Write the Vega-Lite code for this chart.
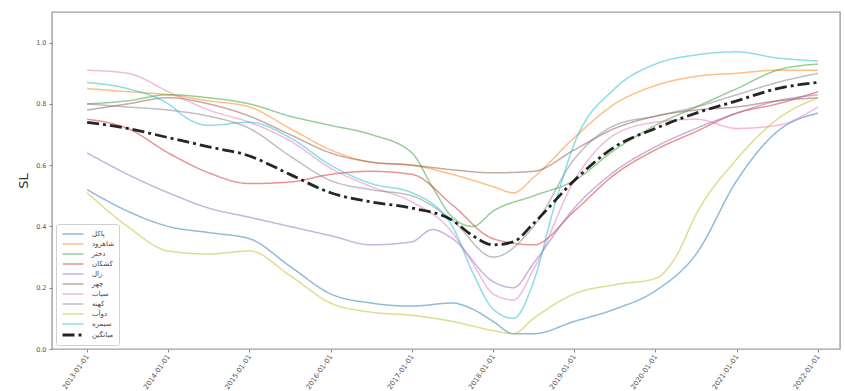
{
  "$schema": "https://vega.github.io/schema/vega-lite/v6.json",
  "width": 788,
  "height": 337,
  "autosize": {"type": "none"},
  "padding": {"left": 52, "top": 12, "right": 5, "bottom": 42},
  "background": "white",
  "config": {
    "view": {"stroke": "#a0a0a0", "strokeWidth": 1.4},
    "font": "DejaVu Sans",
    "axis": {
      "grid": false,
      "domain": false,
      "tickColor": "#888",
      "tickSize": 3,
      "labelColor": "#555",
      "labelFont": "DejaVu Sans",
      "labelFontSize": 6.5
    },
    "legend": {
      "title": null,
      "orient": "bottom-left",
      "offset": 4,
      "padding": 4,
      "fillColor": "rgba(255,255,255,0.85)",
      "strokeColor": "#d0d0d0",
      "cornerRadius": 2,
      "symbolType": "M-2,0H2",
      "symbolSize": 110,
      "symbolOffset": 6,
      "labelOffset": 12,
      "rowPadding": 1,
      "labelFont": "DejaVu Sans",
      "labelFontSize": 7,
      "labelColor": "#444"
    }
  },
  "data": {
    "values": [
      {"date": "2013-01-01", "پاکل": 0.52, "شاهرود": 0.85, "دختر": 0.80, "کشکان": 0.75, "زال": 0.64, "چهر": 0.78, "سیاب": 0.91, "کهنه": 0.80, "دوآب": 0.51, "سیمره": 0.87, "میانگین": 0.74},
      {"date": "2013-07-02", "پاکل": 0.45, "شاهرود": 0.84, "دختر": 0.81, "کشکان": 0.72, "زال": 0.57, "چهر": 0.80, "سیاب": 0.90, "کهنه": 0.79, "دوآب": 0.40, "سیمره": 0.85, "میانگین": 0.72},
      {"date": "2014-01-01", "پاکل": 0.40, "شاهرود": 0.83, "دختر": 0.83, "کشکان": 0.64, "زال": 0.51, "چهر": 0.82, "سیاب": 0.84, "کهنه": 0.78, "دوآب": 0.32, "سیمره": 0.80, "میانگین": 0.69},
      {"date": "2014-04-02", "سیمره": 0.75},
      {"date": "2014-07-02", "پاکل": 0.38, "شاهرود": 0.81, "دختر": 0.82, "کشکان": 0.575, "زال": 0.46, "چهر": 0.80, "سیاب": 0.78, "کهنه": 0.76, "دوآب": 0.31, "سیمره": 0.73, "میانگین": 0.66},
      {"date": "2015-01-01", "پاکل": 0.36, "شاهرود": 0.79, "دختر": 0.80, "کشکان": 0.54, "زال": 0.43, "چهر": 0.76, "سیاب": 0.74, "کهنه": 0.72, "دوآب": 0.32, "سیمره": 0.74, "میانگین": 0.63},
      {"date": "2015-07-02", "پاکل": 0.27, "شاهرود": 0.72, "دختر": 0.76, "کشکان": 0.545, "زال": 0.40, "چهر": 0.70, "سیاب": 0.68, "کهنه": 0.63, "دوآب": 0.24, "سیمره": 0.69, "میانگین": 0.57},
      {"date": "2016-01-01", "پاکل": 0.18, "شاهرود": 0.65, "دختر": 0.73, "کشکان": 0.57, "زال": 0.37, "چهر": 0.64, "سیاب": 0.59, "کهنه": 0.55, "دوآب": 0.15, "سیمره": 0.60, "میانگین": 0.51},
      {"date": "2016-07-02", "پاکل": 0.15, "شاهرود": 0.61, "دختر": 0.70, "کشکان": 0.58, "زال": 0.34, "چهر": 0.61, "سیاب": 0.53, "کهنه": 0.52, "دوآب": 0.12, "سیمره": 0.54, "میانگین": 0.48},
      {"date": "2017-01-01", "پاکل": 0.14, "شاهرود": 0.60, "دختر": 0.64, "کشکان": 0.57, "زال": 0.35, "چهر": 0.60, "سیاب": 0.48, "کهنه": 0.50, "دوآب": 0.11, "سیمره": 0.51, "میانگین": 0.46},
      {"date": "2017-04-02", "دختر": 0.53, "زال": 0.39},
      {"date": "2017-07-02", "پاکل": 0.15, "شاهرود": 0.57, "دختر": 0.43, "کشکان": 0.47, "زال": 0.36, "چهر": 0.585, "سیاب": 0.38, "کهنه": 0.42, "دوآب": 0.09, "سیمره": 0.40, "میانگین": 0.42},
      {"date": "2017-10-01", "پاکل": 0.13, "دختر": 0.40, "سیاب": 0.28, "سیمره": 0.25, "میانگین": 0.37},
      {"date": "2018-01-01", "پاکل": 0.09, "شاهرود": 0.53, "دختر": 0.45, "کشکان": 0.36, "زال": 0.22, "چهر": 0.575, "سیاب": 0.18, "کهنه": 0.30, "دوآب": 0.06, "سیمره": 0.13, "میانگین": 0.34},
      {"date": "2018-04-02", "پاکل": 0.05, "شاهرود": 0.51, "زال": 0.20, "سیاب": 0.16, "دوآب": 0.05, "سیمره": 0.10, "میانگین": 0.35},
      {"date": "2018-07-02", "پاکل": 0.05, "شاهرود": 0.56, "دختر": 0.50, "کشکان": 0.34, "زال": 0.28, "چهر": 0.58, "سیاب": 0.26, "کهنه": 0.40, "دوآب": 0.10, "سیمره": 0.22, "میانگین": 0.41},
      {"date": "2018-10-01", "سیمره": 0.46},
      {"date": "2019-01-01", "پاکل": 0.09, "شاهرود": 0.69, "دختر": 0.55, "کشکان": 0.45, "زال": 0.46, "چهر": 0.65, "سیاب": 0.55, "کهنه": 0.62, "دوآب": 0.18, "سیمره": 0.67, "میانگین": 0.55},
      {"date": "2019-07-02", "پاکل": 0.13, "شاهرود": 0.80, "دختر": 0.65, "کشکان": 0.57, "زال": 0.58, "چهر": 0.72, "سیاب": 0.70, "کهنه": 0.73, "دوآب": 0.21, "سیمره": 0.85, "میانگین": 0.66},
      {"date": "2020-01-01", "پاکل": 0.19, "شاهرود": 0.86, "دختر": 0.73, "کشکان": 0.65, "زال": 0.66, "چهر": 0.76, "سیاب": 0.74, "کهنه": 0.76, "دوآب": 0.23, "سیمره": 0.93, "میانگین": 0.72},
      {"date": "2020-04-01", "دوآب": 0.30},
      {"date": "2020-07-02", "پاکل": 0.31, "شاهرود": 0.89, "دختر": 0.79, "کشکان": 0.71, "زال": 0.72, "چهر": 0.78, "سیاب": 0.75, "کهنه": 0.79, "دوآب": 0.44, "سیمره": 0.96, "میانگین": 0.77},
      {"date": "2021-01-01", "پاکل": 0.55, "شاهرود": 0.90, "دختر": 0.85, "کشکان": 0.77, "زال": 0.77, "چهر": 0.79, "سیاب": 0.72, "کهنه": 0.83, "دوآب": 0.62, "سیمره": 0.97, "میانگین": 0.81},
      {"date": "2021-07-02", "پاکل": 0.71, "شاهرود": 0.91, "دختر": 0.91, "کشکان": 0.80, "زال": 0.81, "چهر": 0.81, "سیاب": 0.73, "کهنه": 0.87, "دوآب": 0.75, "سیمره": 0.95, "میانگین": 0.85},
      {"date": "2022-01-01", "پاکل": 0.77, "شاهرود": 0.91, "دختر": 0.93, "کشکان": 0.84, "زال": 0.83, "چهر": 0.82, "سیاب": 0.79, "کهنه": 0.90, "دوآب": 0.82, "سیمره": 0.94, "میانگین": 0.87}
    ]
  },
  "transform": [
    {"fold": ["پاکل", "شاهرود", "دختر", "کشکان", "زال", "چهر", "سیاب", "کهنه", "دوآب", "سیمره", "میانگین"], "as": ["station", "SL"]},
    {"filter": "isValid(datum.SL)"}
  ],
  "mark": {"type": "line", "interpolate": "monotone"},
  "encoding": {
    "x": {
      "field": "date",
      "type": "temporal",
      "scale": {"type": "utc", "domain": [{"year": 2012, "month": 7, "date": 27, "utc": true}, {"year": 2022, "month": 4, "date": 10, "utc": true}]},
      "axis": {
        "title": null,
        "labelExpr": "utcFormat(datum.value, '%Y-%m-%d')",
        "values": [
          {"year": 2013, "month": 1, "date": 1, "utc": true},
          {"year": 2014, "month": 1, "date": 1, "utc": true},
          {"year": 2015, "month": 1, "date": 1, "utc": true},
          {"year": 2016, "month": 1, "date": 1, "utc": true},
          {"year": 2017, "month": 1, "date": 1, "utc": true},
          {"year": 2018, "month": 1, "date": 1, "utc": true},
          {"year": 2019, "month": 1, "date": 1, "utc": true},
          {"year": 2020, "month": 1, "date": 1, "utc": true},
          {"year": 2021, "month": 1, "date": 1, "utc": true},
          {"year": 2022, "month": 1, "date": 1, "utc": true}
        ],
        "labelAngle": -55,
        "labelAlign": "right",
        "labelBaseline": "middle",
        "labelFontSize": 7,
        "labelPadding": 3
      }
    },
    "y": {
      "field": "SL",
      "type": "quantitative",
      "scale": {"domain": [0, 1.1], "nice": false, "zero": false},
      "axis": {
        "title": "SL",
        "titleFont": "DejaVu Sans",
        "titleFontSize": 13,
        "titleFontWeight": "normal",
        "titleColor": "#333",
        "titlePadding": 5,
        "values": [0, 0.2, 0.4, 0.6, 0.8, 1.0],
        "format": ".1f",
        "labelPadding": 3
      }
    },
    "color": {
      "field": "station",
      "type": "nominal",
      "scale": {
        "domain": ["پاکل", "شاهرود", "دختر", "کشکان", "زال", "چهر", "سیاب", "کهنه", "دوآب", "سیمره", "میانگین"],
        "range": ["#1f77b4", "#ff7f0e", "#2ca02c", "#d62728", "#9467bd", "#8c564b", "#e377c2", "#7f7f7f", "#bcbd22", "#17becf", "#000000"]
      }
    },
    "strokeDash": {
      "field": "station",
      "type": "nominal",
      "scale": {
        "domain": ["پاکل", "شاهرود", "دختر", "کشکان", "زال", "چهر", "سیاب", "کهنه", "دوآب", "سیمره", "میانگین"],
        "range": [[1, 0], [1, 0], [1, 0], [1, 0], [1, 0], [1, 0], [1, 0], [1, 0], [1, 0], [1, 0], [12, 4, 3, 4]]
      }
    },
    "strokeWidth": {
      "field": "station",
      "type": "nominal",
      "scale": {
        "type": "ordinal",
        "domain": ["پاکل", "شاهرود", "دختر", "کشکان", "زال", "چهر", "سیاب", "کهنه", "دوآب", "سیمره", "میانگین"],
        "range": [1.5, 1.5, 1.5, 1.5, 1.5, 1.5, 1.5, 1.5, 1.5, 1.5, 2.8]
      }
    },
    "opacity": {
      "field": "station",
      "type": "nominal",
      "scale": {
        "type": "ordinal",
        "domain": ["پاکل", "شاهرود", "دختر", "کشکان", "زال", "چهر", "سیاب", "کهنه", "دوآب", "سیمره", "میانگین"],
        "range": [0.5, 0.5, 0.5, 0.5, 0.5, 0.5, 0.5, 0.5, 0.5, 0.5, 0.85]
      }
    }
  }
}
